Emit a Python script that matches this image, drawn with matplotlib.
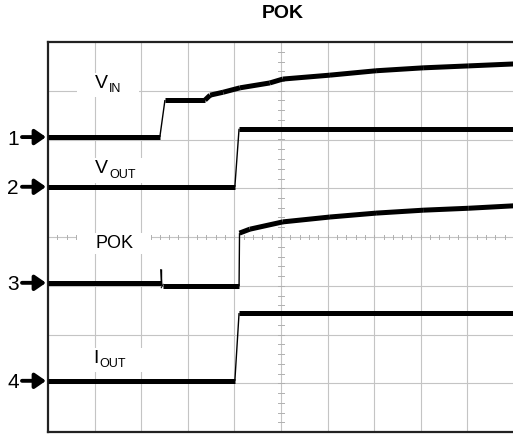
import numpy as np
import matplotlib
matplotlib.use("Agg")
import matplotlib.pyplot as plt
from matplotlib.collections import LineCollection
from matplotlib.patches import Rectangle
from matplotlib.transforms import Bbox

plt.rcParams['font.family'] = ['Liberation Sans', 'DejaVu Sans']

# ---- data (screen divisions: time 0..10, amplitude 0..8) ----
title = "POK"
vin_t = [0.0, 2.40, 2.51, 3.37, 3.48, 3.76, 4.12, 4.76, 5.04, 6.05, 7.04, 8.05, 9.03, 10.0]
vin_v = [6.05, 6.05, 6.81, 6.81, 6.91, 6.97, 7.06, 7.16, 7.24, 7.32, 7.41, 7.47, 7.51, 7.55]

vout_t = [0.0, 4.01, 4.10, 10.0]
vout_v = [5.03, 5.03, 6.22, 6.22]

pok_t = [0.0, 2.42, 2.42, 2.44, 2.46, 4.10, 4.11, 4.33, 5.04, 6.05, 7.04, 8.05, 9.03, 10.0]
pok_v = [3.06, 3.06, 3.34, 3.00, 2.99, 2.99, 4.08, 4.16, 4.31, 4.41, 4.49, 4.55, 4.59, 4.64]

iout_t = [0.0, 4.01, 4.10, 10.0]
iout_v = [1.05, 1.05, 2.44, 2.44]

channel_ids = ["1", "2", "3", "4"]
labels = [("V", "IN"), ("V", "OUT"), ("POK", ""), ("I", "OUT")]
label_pos = [(1.01, 7.06), (1.01, 5.31), (1.01, 3.77), (0.97, 1.42)]
label_size = [14, 14, 13, 14]

traces = [(vin_t, vin_v), (vout_t, vout_v), (pok_t, pok_v), (iout_t, iout_v)]

W, H = 513, 434
fig = plt.figure(figsize=(W / 100, H / 100), dpi=100)
x0, x1, ytop, ybot = 48, 514, 42, 432
ax = fig.add_axes([x0 / W, (H - ybot) / H, (x1 - x0) / W, (ybot - ytop) / H])
ax.set_xlim(0, 10)
ax.set_ylim(0, 8)
ax.set_xticks([])
ax.set_yticks([])

# grid
gc = '#c4c4c4'
for gx in range(1, 10):
    ax.axvline(gx, color=gc, lw=0.8, zorder=1)
for gy in range(1, 8):
    ax.axhline(gy, color=gc, lw=0.8, zorder=1)
# minor ticks on centre lines
for ty in np.arange(0.2, 8, 0.2):
    ax.plot([4.94, 5.06], [ty, ty], color='#b0b0b0', lw=0.7, zorder=1)
for tx in np.arange(0.2, 10, 0.2):
    ax.plot([tx, tx], [3.95, 4.05], color='#b0b0b0', lw=0.7, zorder=1)

for sp in ['left', 'top', 'bottom']:
    ax.spines[sp].set_linewidth(1.6)
    ax.spines[sp].set_color('#222222')
ax.spines['right'].set_visible(False)

# traces: flat parts thick (noise band), steep edges thin
for t, v in traces:
    t = np.asarray(t); v = np.asarray(v)
    segs = [[(t[i], v[i]), (t[i + 1], v[i + 1])] for i in range(len(t) - 1)]
    widths = []
    for i in range(len(t) - 1):
        dt = t[i + 1] - t[i]
        dv = abs(v[i + 1] - v[i])
        steep = dt < 1e-9 or dv / dt > 2.5
        widths.append(1.0 if steep else 3.6)
    lc = LineCollection(segs, colors='black', linewidths=widths, capstyle='butt', zorder=3)
    ax.add_collection(lc)

# labels with white backing boxes
fig.canvas.draw()
renderer = fig.canvas.get_renderer()
for (main, sub), (lx, ly), fs in zip(labels, label_pos, label_size):
    txt = ax.text(lx, ly, main, fontsize=fs, ha='left', va='baseline', zorder=5)
    bb = txt.get_window_extent(renderer)
    boxes = [bb]
    if sub:
        subx = ax.transData.inverted().transform((bb.x1 + 1, 0))[0]
        st = ax.text(subx, ly - 0.09, sub, fontsize=9, ha='left', va='baseline', zorder=5)
        boxes.append(st.get_window_extent(renderer))
    u = Bbox.union(boxes)
    u = Bbox.from_extents(u.x0 - 18, u.y0 - 2, u.x1 + 18, u.y1 + 2)
    (dx0, dy0), (dx1, dy1) = ax.transData.inverted().transform([[u.x0, u.y0], [u.x1, u.y1]])
    ax.add_patch(Rectangle((dx0, dy0), dx1 - dx0, dy1 - dy0, facecolor='white',
                           edgecolor='none', zorder=2))

# channel markers
for cid, (t, v) in zip(channel_ids, traces):
    lvl = v[0]
    ax.annotate('', xy=(46, lvl), xytext=(22, lvl),
                xycoords=('figure pixels', 'data'), textcoords=('figure pixels', 'data'),
                arrowprops=dict(arrowstyle='-|>,head_length=0.65,head_width=0.45',
                                lw=2.8, color='black', shrinkA=0, shrinkB=0),
                annotation_clip=False)
    ax.annotate(cid, xy=(19, lvl), xycoords=('figure pixels', 'data'),
                fontsize=15, ha='right', va='center_baseline', annotation_clip=False)

fig.text(283 / W, 1 - 13 / H, title, fontsize=14, fontweight='bold', ha='center', va='center')

fig.savefig('out.png', dpi=100)
